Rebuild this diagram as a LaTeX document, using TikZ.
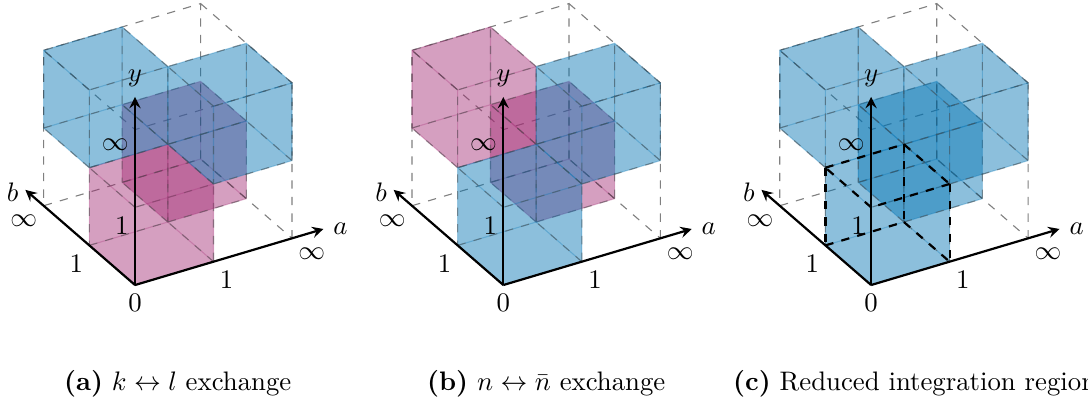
\documentclass[tikz,border=0pt]{standalone}
\definecolor{cubeblue}{HTML}{0072B2}
\definecolor{cubepink}{HTML}{A22A73}
\tikzset{
	every node/.style={scale=0.97},
	axis/.style={thick, -stealth},
	boxedge/.style={gray, dashed, line width=0.4pt},
	cubedash/.style={black!70, dashed, line width=0.4pt, opacity=0.55},
	cubeedge/.style={line width=0.4pt, opacity=0.3},
	unitedge/.style={thick, dashed},
	ticklabel/.style={inner xsep=2.2pt},
	caption/.style={anchor=base west, inner sep=0pt},
	panel/.style={x={(1cm,0.2975cm)}, y={(0cm,0.99cm)}, z={(-0.582cm,0.505cm)}},
}
% all edges of one unit cube, seen from its lower corner
\newcommand{\cubeedges}{(0,0,0) -- (1,0,0) -- (1,1,0) -- (0,1,0) -- cycle (0,0,1) -- (1,0,1) -- (1,1,1) -- (0,1,1) -- cycle (0,0,0) -- (0,0,1) (1,0,0) -- (1,0,1) (1,1,0) -- (1,1,1) (0,1,0) -- (0,1,1)}
% corner in a,y,b and colour
\newcommand{\unitcube}[4]{
	\begin{scope}[shift={(#1,#2,#3)}]
		\fill[#4, opacity=0.45] (0,0,0) -- (0,0,1) -- (0,1,1) -- (1,1,1) -- (1,1,0) -- (1,0,0) -- cycle;
		\draw[#4, cubeedge] \cubeedges;
		\draw[cubedash] \cubeedges;
	\end{scope}
}
% dashed frame
\newcommand{\boxlines}{
	\draw[boxedge] (2,0,0) -- (2,2,0) -- (0,2,0) -- (0,2,2) -- (0,0,2) -- (2,0,2) -- (2,0,0);
	\draw[boxedge] (2,0,2) -- (2,2,2) -- (0,2,2) (2,2,2) -- (2,2,0);
}
% axes and their labels
\newcommand{\axeslabels}{
	\coordinate (origin) at (0,0,0);
	\coordinate (tipa) at (2.4,0,0);
	\coordinate (tipy) at (0,2.42,0);
	\coordinate (tipb) at (0,0,2.4);
	\draw[axis] (origin) -- (tipa) node[right] (labela) {$a$};
	\draw[axis] (origin) -- (tipy) node[above] (labely) {$y$};
	\draw[axis] (origin) -- (tipb) node[left, ticklabel, yshift=-1pt] (labelb) {$b$};
	\node[below] (zero) at (origin) {$0$};
	\node[below right, ticklabel] (onea) at (1,0,0) {$1$};
	\node[below right, ticklabel] (infa) at (2,0,0) {$\infty$};
	\node[below left, ticklabel] (oney) at (0,1,0) {$1$};
	\node[below left, ticklabel] (infy) at (0,2,0) {$\infty$};
	\node[below left, ticklabel] (oneb) at (0,0,1) {$1$};
	\node[below left, ticklabel] (infb) at (0,0,2) {$\infty$};
}
\begin{document}
\begin{tikzpicture}
	\useasboundingbox (0,0) rectangle (13.86,5.134);
	\begin{scope}[shift={(1.72,1.503)}, panel]
		\boxlines
		\unitcube{0}{0}{0}{cubepink}
		\unitcube{1}{0}{1}{cubepink}
		\unitcube{0}{1}{1}{cubeblue}
		\unitcube{1}{1}{0}{cubeblue}
		\axeslabels
	\end{scope}
	\begin{scope}[shift={(6.412,1.503)}, panel]
		\boxlines
		\unitcube{0}{1}{1}{cubepink}
		\unitcube{1}{0}{1}{cubepink}
		\unitcube{0}{0}{0}{cubeblue}
		\unitcube{1}{1}{0}{cubeblue}
		\axeslabels
	\end{scope}
	\begin{scope}[shift={(11.097,1.503)}, panel]
		\boxlines
		\unitcube{0}{0}{0}{cubeblue}
		\unitcube{1}{0}{1}{cubeblue}
		\unitcube{0}{1}{1}{cubeblue}
		\unitcube{1}{1}{0}{cubeblue}
		\axeslabels
		\draw[unitedge] (0,1,1) -- (1,1,1) (1,1,1) -- (1,1,0) (1,1,0) -- (0,1,0) (0,1,0) -- (0,1,1);
		\draw[unitedge] (0,1,1) -- (0,0,1) (1,1,1) -- (1,0,1) (1,1,0) -- (1,0,0);
		\draw[unitedge] (0,0,1) -- (1,0,1) (1,0,1) -- (1,0,0);
	\end{scope}
	\node[caption] (captiona) at (0.81,0.155) {\textbf{(a)} $k\leftrightarrow l$ exchange};
	\node[caption] (captionb) at (5.435,0.155) {\textbf{(b)} $n\leftrightarrow\bar{n}$ exchange};
	\node[caption] (captionc) at (9.333,0.155) {\textbf{(c)} Reduced integration region};
\end{tikzpicture}
\end{document}
